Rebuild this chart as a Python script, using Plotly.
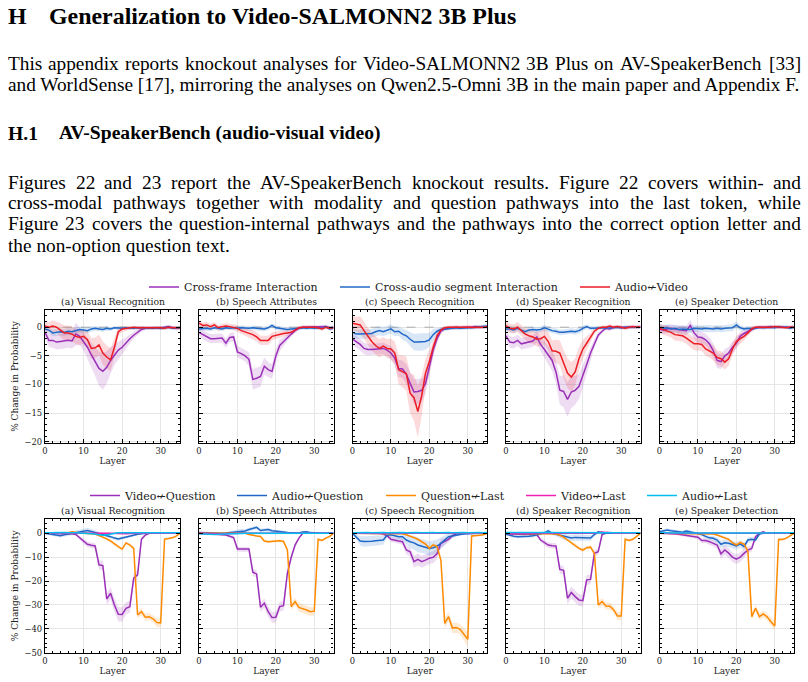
import plotly.graph_objects as go

W, H = 808, 682


def fx(p):
    return p / W


def fy(p):
    return 1 - p / H


SERIF = "DejaVu Serif"
TIMES = "Liberation Serif"

LAYERS = list(range(36))
X_TICKS = [0, 10, 20, 30]
R1_Y_TICKS = [-20, -15, -10, -5, 0]
R2_Y_TICKS = [-50, -40, -30, -20, -10, 0]

ROW1_TITLES = ["(a) Visual Recognition", "(b) Speech Attributes", "(c) Speech Recognition",
               "(d) Speaker Recognition", "(e) Speaker Detection"]
ROW2_TITLES = ROW1_TITLES
ROW1_NAMES = ["Cross-frame Interaction", "Cross-audio segment Interaction", "Audio\u219aVideo"]
ROW2_NAMES = ["Video\u219aQuestion", "Audio\u219aQuestion", "Question\u219aLast", "Video\u219aLast", "Audio\u219aLast"]

# ---------------- Row 1 : within/cross-modal pathways ----------------
R1A_CF = [-0.9, -2.3, -2.3, -2.6, -2.5, -2.4, -2.3, -2.4, -1.2, -1.6,
          -2.5, -3.5, -4.8, -6.0, -7.2, -7.7, -7.0, -5.8, -4.8, -4.0,
          -3.5, -2.7, -2.0, -1.4, -0.9, -0.4, -0.2, -0.2, -0.1, -0.1,
          -0.2, 0.0, 0.1, -0.1, -0.2, -0.1]
R1A_CF_CI = [0.8, 1.2, 1.3, 1.3, 1.3, 1.3, 1.3, 1.3, 2.0, 1.5,
             1.5, 1.8, 2.2, 2.5, 3.0, 3.2, 2.8, 2.3, 1.8, 1.5,
             1.3, 1.0, 0.8, 0.6, 0.5, 0.4, 0.3, 0.3, 0.3, 0.3,
             0.3, 0.3, 0.3, 0.3, 0.3, 0.3]
R1A_CA = [-0.3, -0.5, -1.0, -0.9, -0.8, -0.9, -0.7, -0.8, -0.6, -0.4,
          -0.5, -0.6, -0.3, -0.2, -0.3, -0.4, -0.2, -0.3, -0.1, -0.2,
          -0.2, -0.1, -0.2, -0.2, -0.1, -0.2, -0.2, -0.1, -0.2, -0.1,
          -0.2, -0.1, 0.0, -0.2, -0.2, -0.1]
R1A_CA_CI = [0.4, 0.5, 0.6, 0.6, 0.6, 0.6, 0.6, 0.6, 0.5, 0.5,
             0.5, 0.5, 0.5, 0.4, 0.4, 0.4, 0.4, 0.3, 0.3, 0.3,
             0.3, 0.3, 0.3, 0.3, 0.3, 0.3, 0.3, 0.3, 0.3, 0.3,
             0.3, 0.3, 0.3, 0.3, 0.3, 0.3]
R1A_AV = [0.2, 0.0, 0.2, 0.0, -0.5, -1.0, -1.0, -1.2, -1.6, -1.8,
          -1.6, -2.2, -3.7, -3.6, -3.1, -4.5, -5.2, -5.7, -3.5, -0.8,
          -0.3, -0.2, -0.1, 0.0, -0.1, -0.1, 0.0, 0.0, -0.1, 0.0,
          -0.1, -0.2, 0.0, -0.1, -0.1, -0.1]
R1A_AV_CI = [0.8, 0.8, 1.0, 1.0, 1.2, 1.3, 1.3, 1.3, 1.3, 1.3,
             1.3, 1.5, 1.8, 1.8, 1.8, 2.0, 2.0, 2.0, 1.5, 0.8,
             0.5, 0.4, 0.3, 0.3, 0.3, 0.3, 0.3, 0.3, 0.3, 0.3,
             0.3, 0.3, 0.3, 0.3, 0.3, 0.3]

R1B_CF = [-0.9, -1.3, -1.7, -2.0, -2.0, -1.9, -1.9, -2.8, -1.8, -1.7,
          -4.3, -4.6, -5.0, -5.6, -9.1, -8.9, -8.6, -6.8, -7.4, -7.7,
          -5.0, -3.2, -2.5, -1.8, -1.2, -0.6, -0.2, 0.0, 0.0, 0.0,
          0.0, 0.1, 0.0, 0.1, -0.1, 0.0]
R1B_CF_CI = [0.6, 0.8, 0.8, 0.8, 0.8, 0.8, 0.8, 0.8, 0.8, 0.8,
             1.0, 1.0, 1.0, 1.2, 1.8, 1.8, 1.8, 1.5, 1.3, 1.3,
             1.2, 1.0, 0.8, 0.6, 0.5, 0.4, 0.3, 0.3, 0.3, 0.3,
             0.3, 0.3, 0.3, 0.3, 0.3, 0.3]
R1B_CA = [-0.3, -0.2, -0.2, -0.3, -0.1, -0.2, -0.3, -0.1, -0.2, -0.1,
          -0.2, -0.1, -0.2, -0.2, -0.1, -0.2, -0.2, -0.3, -0.1, 0.3,
          -0.1, -0.2, -0.3, -0.4, -0.3, -0.3, -0.2, -0.1, -0.2, -0.1,
          -0.2, -0.1, -0.2, 0.1, -0.3, -0.2]
R1B_CA_CI = [0.4, 0.4, 0.4, 0.4, 0.4, 0.4, 0.4, 0.4, 0.4, 0.4,
             0.4, 0.4, 0.4, 0.4, 0.4, 0.4, 0.4, 0.4, 0.4, 0.4,
             0.4, 0.4, 0.4, 0.4, 0.4, 0.3, 0.3, 0.3, 0.3, 0.3,
             0.3, 0.3, 0.3, 0.3, 0.3, 0.3]
R1B_AV = [0.7, 0.3, 0.4, 0.1, 0.4, -0.1, 0.1, 0.2, 0.1, 0.0,
          -0.2, -0.6, -0.8, -1.1, -1.3, -1.7, -2.3, -2.3, -2.3, -1.6,
          -1.4, -1.2, -1.1, -1.0, -0.9, -0.5, -0.1, 0.0, 0.0, 0.1,
          0.0, -0.1, -0.3, 0.0, -0.2, -0.1]
R1B_AV_CI = [0.5, 0.5, 0.5, 0.5, 0.5, 0.5, 0.5, 0.5, 0.5, 0.5,
             0.6, 0.6, 0.7, 0.7, 0.8, 0.8, 0.8, 0.8, 0.8, 0.7,
             0.6, 0.6, 0.5, 0.5, 0.5, 0.4, 0.3, 0.3, 0.3, 0.3,
             0.3, 0.3, 0.3, 0.3, 0.3, 0.3]

R1C_CF = [-2.1, -2.6, -3.0, -3.7, -3.9, -3.9, -3.8, -3.7, -3.7, -4.0,
          -4.5, -5.4, -7.2, -7.3, -8.2, -9.8, -11.3, -11.2, -11.0, -9.8,
          -7.0, -4.0, -2.0, -0.7, -0.3, -0.2, -0.1, 0.0, -0.1, 0.0,
          0.0, 0.0, 0.1, 0.0, 0.0, 0.0]
R1C_CF_CI = [1.0, 1.0, 1.0, 1.0, 1.0, 1.0, 1.0, 1.0, 1.0, 1.0,
             1.2, 1.3, 1.5, 1.5, 1.8, 2.0, 2.2, 2.2, 2.0, 1.8,
             1.5, 1.2, 0.8, 0.5, 0.3, 0.3, 0.3, 0.3, 0.3, 0.3,
             0.3, 0.3, 0.3, 0.3, 0.3, 0.3]
R1C_CA = [-0.9, -1.2, -1.2, -1.2, -1.2, -1.1, -0.8, -0.6, -0.8, -0.5,
          -0.3, -0.8, -0.7, -1.2, -1.5, -2.1, -2.6, -2.6, -2.6, -2.5,
          -2.2, -1.3, -0.7, -0.4, -0.3, -0.2, -0.1, -0.1, -0.2, -0.1,
          -0.1, -0.1, 0.0, 0.0, 0.1, 0.2]
R1C_CA_CI = [0.8, 0.8, 0.8, 0.8, 0.8, 0.8, 0.8, 0.8, 0.8, 0.8,
             0.8, 0.8, 0.8, 1.0, 1.0, 1.2, 1.4, 1.5, 1.5, 1.4,
             1.2, 1.0, 0.6, 0.4, 0.3, 0.3, 0.3, 0.3, 0.3, 0.3,
             0.3, 0.3, 0.3, 0.3, 0.3, 0.3]
R1C_AV = [0.7, 0.5, 0.4, -0.6, -1.6, -2.5, -3.2, -3.7, -3.3, -3.7,
          -3.8, -4.5, -7.4, -7.7, -8.1, -11.5, -12.3, -14.7, -12.0, -8.0,
          -6.0, -3.5, -1.5, -0.5, -0.1, 0.0, 0.0, 0.0, 0.0, 0.0,
          -0.1, 0.0, 0.0, 0.0, 0.0, 0.1]
R1C_AV_CI = [1.2, 1.3, 1.5, 1.5, 1.5, 1.5, 1.6, 1.6, 1.6, 1.6,
             1.8, 2.0, 2.5, 2.8, 3.0, 3.5, 4.0, 4.5, 3.5, 2.5,
             2.0, 1.2, 0.8, 0.5, 0.3, 0.3, 0.3, 0.3, 0.3, 0.3,
             0.3, 0.3, 0.3, 0.3, 0.3, 0.3]

R1D_CF = [-1.5, -2.6, -2.7, -2.3, -2.9, -2.7, -2.6, -2.4, -1.7, -3.0,
          -3.9, -4.9, -5.8, -7.8, -11.0, -11.2, -12.6, -11.3, -11.0, -10.3,
          -8.5, -6.5, -4.5, -2.8, -1.4, -0.7, -0.2, -0.3, 0.0, 0.0,
          -0.1, 0.0, 0.0, 0.0, 0.1, 0.0]
R1D_CF_CI = [0.8, 1.0, 1.0, 1.0, 1.0, 1.0, 1.0, 1.0, 1.0, 1.2,
             1.4, 1.6, 1.8, 2.0, 2.5, 2.8, 3.0, 2.8, 2.5, 2.2,
             2.0, 1.6, 1.2, 0.8, 0.5, 0.3, 0.3, 0.3, 0.3, 0.3,
             0.3, 0.3, 0.3, 0.3, 0.3, 0.3]
R1D_CA = [-0.3, -0.3, -0.5, -0.2, -0.5, -0.8, -0.5, -0.4, -0.5, -0.4,
          -0.1, -0.4, -0.6, -0.7, -0.9, -0.9, -0.8, -0.7, -0.8, -0.6,
          -0.2, 0.1, -0.2, -0.2, -0.1, -0.1, -0.1, -0.2, -0.1, 0.0,
          -0.1, 0.0, 0.0, -0.1, 0.0, 0.0]
R1D_CA_CI = [0.5, 0.5, 0.5, 0.5, 0.5, 0.5, 0.5, 0.5, 0.5, 0.5,
             0.5, 0.5, 0.5, 0.5, 0.5, 0.5, 0.5, 0.5, 0.5, 0.5,
             0.4, 0.4, 0.4, 0.3, 0.3, 0.3, 0.3, 0.3, 0.3, 0.3,
             0.3, 0.3, 0.3, 0.3, 0.3, 0.3]
R1D_AV = [0.3, -0.2, -0.3, 0.0, -0.6, -1.2, -1.5, -1.7, -2.1, -2.0,
          -1.6, -2.5, -4.1, -4.2, -4.5, -6.4, -8.0, -8.7, -7.8, -5.5,
          -3.8, -2.8, -1.8, -0.7, -0.2, 0.0, 0.0, 0.2, 0.0, 0.1,
          0.0, -0.2, 0.0, 0.1, 0.0, 0.1]
R1D_AV_CI = [0.8, 0.8, 0.8, 0.9, 1.0, 1.0, 1.2, 1.2, 1.3, 1.3,
             1.4, 1.6, 1.8, 2.0, 2.2, 2.4, 2.6, 2.6, 2.4, 2.0,
             1.6, 1.2, 0.8, 0.5, 0.3, 0.3, 0.3, 0.3, 0.3, 0.3,
             0.3, 0.3, 0.3, 0.3, 0.3, 0.3]

R1E_CF = [-0.3, -0.5, -0.3, -0.2, -0.3, -0.4, -0.5, -0.6, 0.3, -1.0,
          -1.7, -1.8, -2.2, -2.9, -4.1, -5.8, -6.0, -5.0, -4.5, -3.5,
          -2.8, -1.6, -1.1, -0.7, -0.4, -0.1, 0.0, 0.0, 0.0, 0.1,
          0.0, 0.0, 0.0, 0.1, 0.0, 0.0]
R1E_CF_CI = [0.7, 0.7, 0.7, 0.7, 0.7, 0.7, 0.8, 0.8, 1.0, 1.0,
             1.0, 1.0, 1.0, 1.1, 1.2, 1.3, 1.3, 1.2, 1.1, 1.0,
             0.9, 0.8, 0.6, 0.5, 0.4, 0.3, 0.3, 0.3, 0.3, 0.3,
             0.3, 0.3, 0.3, 0.3, 0.3, 0.3]
R1E_CA = [0.0, -0.2, -0.1, -0.3, -0.2, -0.4, -0.3, -0.3, -0.4, -0.2,
          -0.3, -0.3, -0.2, -0.3, -0.3, -0.2, -0.3, -0.2, -0.1, -0.1,
          0.4, -0.1, -0.3, -0.2, -0.3, -0.1, 0.0, -0.1, 0.0, 0.0,
          -0.1, 0.1, 0.0, 0.0, -0.2, 0.0]
R1E_CA_CI = [0.6, 0.6, 0.6, 0.6, 0.6, 0.6, 0.6, 0.6, 0.6, 0.6,
             0.6, 0.6, 0.6, 0.6, 0.6, 0.6, 0.6, 0.6, 0.6, 0.6,
             0.6, 0.5, 0.4, 0.4, 0.3, 0.3, 0.3, 0.3, 0.3, 0.3,
             0.3, 0.3, 0.3, 0.3, 0.3, 0.3]
R1E_AV = [-0.2, -0.4, -0.6, -0.9, -1.3, -1.4, -1.5, -1.9, -2.4, -2.9,
          -2.9, -3.0, -3.8, -4.1, -4.5, -5.3, -5.5, -6.1, -5.5, -3.8,
          -2.5, -2.0, -1.6, -1.0, -0.3, 0.0, 0.0, -0.1, 0.0, 0.0,
          0.1, 0.0, 0.0, -0.1, 0.0, 0.0]
R1E_AV_CI = [0.8, 0.8, 0.9, 0.9, 1.0, 1.0, 1.0, 1.0, 1.1, 1.1,
             1.1, 1.1, 1.2, 1.2, 1.3, 1.3, 1.3, 1.3, 1.2, 1.1,
             1.0, 0.9, 0.7, 0.5, 0.4, 0.3, 0.3, 0.3, 0.3, 0.3,
             0.3, 0.3, 0.3, 0.3, 0.3, 0.3]

# ---------------- Row 2 : question / last-token pathways ----------------
R2A_VQ = [0.0, 0.0, 0.0, 0.0, 0.0, 0.0, 0.0, -0.2, -0.5, -2.0,
          -3.5, -4.6, -5.0, -5.3, -13.2, -13.5, -27.5, -25.1, -30.0, -33.9,
          -34.0, -31.4, -30.7, -18.8, -17.4, -2.5, -0.7, 0.0, 0.0, 0.0,
          0.0, 0.0, 0.0, 0.0, 0.0, 0.0]
R2A_VQ_CI = [0.3, 0.3, 0.3, 0.3, 0.3, 0.3, 0.3, 0.4, 0.5, 0.8,
             1.0, 1.2, 1.2, 1.2, 2.0, 2.0, 2.5, 2.5, 2.8, 3.0,
             3.0, 2.5, 2.5, 2.0, 2.0, 1.0, 0.5, 0.3, 0.3, 0.3,
             0.3, 0.3, 0.3, 0.3, 0.3, 0.3]
R2A_AQ = [0.0, -0.2, -0.5, -0.8, -1.0, -0.6, -0.3, 0.0, 0.3, 0.7,
          1.1, 1.2, 0.8, 0.4, -0.2, -0.5, -1.0, -1.4, -2.0, -2.4,
          -2.0, -1.7, -1.3, -0.8, -0.4, -0.1, 0.0, 0.0, 0.0, 0.0,
          0.1, 0.0, 0.0, 0.0, 0.0, 0.0]
R2A_AQ_CI = [0.4, 0.5, 0.5, 0.6, 0.6, 0.6, 0.6, 0.7, 0.9, 1.0,
             1.1, 1.1, 1.0, 0.8, 0.6, 0.6, 0.6, 0.7, 0.7, 0.7,
             0.7, 0.6, 0.6, 0.5, 0.4, 0.3, 0.3, 0.3, 0.3, 0.3,
             0.3, 0.3, 0.3, 0.3, 0.3, 0.3]
R2A_QL = [0.0, 0.0, 0.0, 0.0, 0.0, 0.1, 0.3, 0.7, 0.3, 0.1,
          0.0, 0.0, 0.0, -0.3, -0.9, -1.5, -2.3, -3.2, -4.6, -5.6,
          -6.6, -4.0, -4.9, -6.3, -34.2, -32.8, -35.1, -34.9, -35.8, -37.4,
          -37.5, -2.4, -2.2, -1.9, -1.2, 0.0]
R2A_QL_CI = [0.2, 0.2, 0.2, 0.2, 0.2, 0.2, 0.3, 0.3, 0.3, 0.2,
             0.2, 0.2, 0.2, 0.3, 0.4, 0.5, 0.5, 0.6, 0.6, 0.7,
             0.7, 0.7, 0.7, 0.8, 1.5, 1.5, 1.5, 1.5, 1.5, 1.8,
             1.8, 0.5, 0.5, 0.5, 0.4, 0.2]
R2A_VL = [0.0, 0.1, 0.0, 0.0, -0.1, 0.0, 0.0, 0.1, 0.0, 0.0,
          -0.1, 0.0, 0.0, 0.0, -0.1, 0.0, 0.0, 0.0, -0.1, 0.0,
          0.0, -0.2, -0.1, 0.0, 0.0, 0.0, 0.0, 0.0, 0.0, 0.0,
          0.0, 0.0, 0.0, 0.0, 0.0, 0.0]
R2A_AL = [0.2, 0.1, 0.2, 0.3, 0.2, 0.2, 0.1, 0.2, 0.2, 0.1,
          0.2, 0.2, 0.1, -0.3, -0.6, -0.8, -0.6, -0.3, 0.1, 0.2,
          0.2, 0.3, 0.2, 0.2, 0.2, 0.1, 0.2, 0.2, 0.2, 0.2,
          0.1, 0.2, 0.2, 0.2, 0.2, 0.2]

R2B_VQ = [0.0, -0.2, -0.3, -0.4, -0.4, -0.5, -0.6, -0.7, -1.2, -1.8,
          -6.6, -6.7, -6.8, -6.6, -16.3, -17.0, -31.0, -29.3, -32.8, -35.3,
          -35.2, -30.7, -30.3, -16.7, -10.0, -4.9, -2.0, 0.0, 0.0, 0.0,
          0.0, 0.0, 0.0, 0.0, 0.0, 0.0]
R2B_VQ_CI = [0.3, 0.3, 0.3, 0.3, 0.3, 0.3, 0.3, 0.4, 0.5, 0.8,
             1.0, 1.0, 1.0, 1.0, 1.5, 1.5, 2.0, 2.0, 2.2, 2.2,
             2.2, 2.0, 2.0, 1.5, 1.2, 1.0, 0.5, 0.3, 0.3, 0.3,
             0.3, 0.3, 0.3, 0.3, 0.3, 0.3]
R2B_AQ = [0.3, 0.2, 0.1, 0.0, 0.0, 0.1, 0.0, 0.1, 0.3, 0.7,
          0.9, 1.1, 1.0, 1.6, 2.0, 2.5, 1.2, 1.5, 1.6, 1.1,
          1.0, 0.8, 0.6, 0.3, 0.2, 0.0, 0.1, 0.6, 0.7, 0.3,
          0.1, 0.0, 0.0, 0.0, 0.0, 0.0]
R2B_AQ_CI = [0.4, 0.4, 0.4, 0.4, 0.4, 0.4, 0.4, 0.5, 0.6, 0.7,
             0.8, 0.8, 0.8, 0.8, 0.8, 0.8, 0.7, 0.7, 0.7, 0.6,
             0.6, 0.5, 0.5, 0.4, 0.4, 0.4, 0.4, 0.4, 0.4, 0.3,
             0.3, 0.3, 0.3, 0.3, 0.3, 0.3]
R2B_QL = [0.0, 0.0, 0.0, 0.0, 0.0, 0.0, 0.0, 0.0, 0.0, 0.0,
          0.0, 0.0, 0.0, -0.5, -0.9, -1.1, -1.3, -3.2, -3.5, -3.4,
          -3.2, -3.1, -3.4, -7.0, -30.7, -28.6, -31.0, -31.4, -32.1, -32.8,
          -32.6, -2.5, -3.0, -2.0, -1.3, 0.0]
R2B_QL_CI = [0.2, 0.2, 0.2, 0.2, 0.2, 0.2, 0.2, 0.2, 0.2, 0.2,
             0.2, 0.2, 0.2, 0.3, 0.3, 0.4, 0.5, 0.5, 0.5, 0.5,
             0.5, 0.5, 0.5, 0.8, 1.5, 1.5, 1.8, 1.8, 1.8, 1.8,
             1.8, 0.5, 0.5, 0.4, 0.3, 0.2]
R2B_VL = [0.0, -0.1, -0.2, -0.2, -0.3, -0.2, -0.2, -0.1, -0.1, 0.0,
          0.0, 0.0, 0.0, 0.0, 0.0, 0.0, 0.0, 0.0, 0.0, 0.0,
          0.0, 0.0, 0.0, 0.0, 0.0, 0.0, 0.0, 0.0, 0.0, 0.0,
          0.0, 0.0, 0.0, 0.0, 0.0, 0.0]
R2B_AL = [-0.2, -0.3, -0.5, -0.6, -0.5, -0.4, -0.3, -0.2, -0.1, 0.0,
          0.0, 0.1, 0.0, 0.0, 0.1, 0.0, 0.0, 0.0, 0.0, 0.0,
          0.0, 0.0, 0.0, 0.1, 0.0, 0.0, 0.0, 0.0, 0.0, 0.0,
          0.0, 0.0, 0.0, 0.0, 0.0, 0.0]

R2C_VQ = [0.0, 0.0, 0.1, 0.0, 0.0, 0.0, 0.0, -0.1, -0.3, -1.0,
          -2.5, -3.0, -3.2, -3.5, -7.0, -7.7, -11.9, -10.9, -11.9, -11.2,
          -10.4, -10.0, -8.6, -4.2, -3.5, -2.5, -1.0, -0.2, 0.0, 0.0,
          0.0, 0.0, 0.0, 0.0, 0.0, 0.0]
R2C_VQ_CI = [0.3, 0.3, 0.3, 0.3, 0.3, 0.3, 0.3, 0.3, 0.4, 0.6,
             1.0, 1.2, 1.2, 1.3, 1.8, 2.0, 2.5, 2.5, 2.5, 2.5,
             2.5, 2.5, 2.2, 1.8, 1.5, 1.2, 0.8, 0.4, 0.3, 0.3,
             0.3, 0.3, 0.3, 0.3, 0.3, 0.3]
R2C_AQ = [0.0, -1.4, -3.2, -3.4, -3.5, -3.3, -3.1, -3.0, -2.8, -0.8,
          -0.6, -1.0, -1.4, -1.4, -2.8, -3.5, -4.0, -4.9, -5.3, -5.6,
          -6.3, -6.0, -5.4, -4.2, -2.8, -1.4, -1.1, -0.7, -0.5, -0.3,
          -0.1, 0.0, 0.0, 0.0, 0.0, 0.0]
R2C_AQ_CI = [0.3, 1.0, 2.0, 2.2, 2.2, 2.2, 2.2, 2.0, 2.0, 1.0,
             1.0, 1.2, 1.2, 1.5, 2.0, 2.5, 3.0, 3.0, 3.0, 3.0,
             3.0, 3.0, 2.8, 2.5, 2.0, 1.5, 1.0, 0.6, 0.4, 0.3,
             0.3, 0.3, 0.3, 0.3, 0.3, 0.3]
R2C_QL = [0.0, 0.0, 0.0, 0.0, 0.0, 0.0, 0.0, 0.0, 0.0, 0.0,
          0.0, 0.0, 0.0, -0.2, -0.6, -1.1, -1.8, -2.5, -3.5, -4.5,
          -6.3, -4.8, -5.5, -11.2, -37.7, -34.9, -39.7, -39.5, -40.2, -42.1,
          -44.4, -1.1, -1.1, -0.8, -0.6, 0.0]
R2C_QL_CI = [0.2, 0.2, 0.2, 0.2, 0.2, 0.2, 0.2, 0.2, 0.2, 0.2,
             0.2, 0.2, 0.2, 0.3, 0.4, 0.5, 0.5, 0.6, 0.6, 0.7,
             0.8, 0.8, 0.8, 1.0, 2.0, 2.0, 2.2, 2.2, 2.2, 2.5,
             3.0, 0.5, 0.4, 0.4, 0.3, 0.2]
R2C_VL = [0.0, 0.0, 0.1, 0.0, 0.0, 0.0, -0.1, 0.0, 0.0, 0.0,
          0.0, 0.0, 0.0, 0.0, 0.0, 0.1, 0.0, 0.0, 0.0, 0.0,
          0.0, 0.0, 0.0, 0.0, 0.0, 0.0, 0.0, 0.0, 0.0, 0.0,
          0.0, 0.0, 0.0, 0.0, 0.0, 0.0]
R2C_AL = [0.2, 0.3, 0.3, 0.2, 0.3, 0.2, 0.3, 0.2, 0.3, 0.2,
          0.3, 0.2, 0.3, 0.3, 0.2, 0.3, 0.2, 0.3, 0.2, 0.3,
          0.2, 0.3, 0.2, 0.3, 0.2, 0.3, 0.2, 0.3, 0.2, 0.3,
          0.2, 0.3, 0.2, 0.3, 0.2, 0.3]

R2D_VQ = [-0.3, -0.3, -0.4, -0.4, -0.3, -0.4, -0.3, -0.4, -0.5, -2.8,
          -4.0, -4.9, -5.2, -5.3, -15.1, -15.5, -27.2, -24.8, -26.5, -27.9,
          -28.2, -19.5, -19.3, -8.4, -7.7, -0.5, 0.0, 0.0, 0.0, 0.0,
          0.0, 0.0, 0.0, 0.0, 0.0, 0.0]
R2D_VQ_CI = [0.4, 0.4, 0.4, 0.4, 0.4, 0.4, 0.4, 0.4, 0.5, 0.8,
             1.0, 1.2, 1.2, 1.2, 1.8, 1.8, 2.5, 2.5, 2.5, 2.5,
             2.5, 2.0, 2.0, 1.5, 1.2, 0.6, 0.3, 0.3, 0.3, 0.3,
             0.3, 0.3, 0.3, 0.3, 0.3, 0.3]
R2D_AQ = [-0.4, -0.9, -1.2, -1.4, -1.4, -1.3, -1.2, -1.0, -0.7, -0.4,
          0.2, 1.0, 0.0, -0.4, -0.8, -1.5, -1.9, -2.0, -1.7, -1.8,
          -1.8, -1.8, -2.0, -0.5, 0.6, 0.2, 0.0, 0.0, 0.0, 0.0,
          0.0, 0.0, 0.0, 0.0, 0.0, 0.0]
R2D_AQ_CI = [0.5, 0.6, 0.7, 0.7, 0.7, 0.7, 0.7, 0.7, 0.6, 0.6,
             0.7, 0.8, 0.7, 0.8, 1.0, 1.2, 1.3, 1.3, 1.3, 1.3,
             1.3, 1.3, 1.2, 0.8, 0.6, 0.4, 0.3, 0.3, 0.3, 0.3,
             0.3, 0.3, 0.3, 0.3, 0.3, 0.3]
R2D_QL = [0.0, 0.0, 0.0, 0.0, 0.0, 0.0, 0.0, 0.0, 0.0, 0.0,
          0.0, 0.0, 0.0, -0.3, -0.8, -1.6, -2.8, -4.1, -5.0, -6.3,
          -7.0, -6.0, -5.8, -8.4, -30.0, -28.6, -30.4, -30.5, -32.0, -34.6,
          -34.6, -2.5, -3.0, -2.5, -1.3, 0.0]
R2D_QL_CI = [0.2, 0.2, 0.2, 0.2, 0.2, 0.2, 0.2, 0.2, 0.2, 0.2,
             0.2, 0.2, 0.2, 0.3, 0.4, 0.5, 0.6, 0.7, 0.8, 0.8,
             0.8, 0.8, 0.8, 1.0, 1.5, 1.5, 1.5, 1.5, 1.5, 1.8,
             1.8, 0.6, 0.6, 0.5, 0.4, 0.2]
R2D_VL = [0.0, -0.2, -0.1, 0.0, 0.0, -0.1, -0.2, -0.3, -0.1, 0.0,
          0.0, 0.0, 0.0, 0.0, 0.0, 0.0, 0.0, 0.0, 0.0, 0.0,
          0.0, 0.0, 0.0, 0.0, 0.3, 0.6, 0.4, 0.2, 0.0, 0.0,
          0.0, 0.0, 0.0, 0.0, 0.0, 0.0]
R2D_AL = [0.3, 0.3, 0.3, 0.4, 0.3, 0.2, 0.3, 0.2, 0.2, 0.1,
          0.2, 0.1, 0.2, 0.2, 0.1, 0.2, 0.3, 0.2, 0.2, 0.2,
          0.2, 0.2, 0.1, 0.2, 0.2, 0.3, 0.2, 0.2, 0.2, 0.2,
          0.2, 0.2, 0.2, 0.2, 0.2, 0.2]

R2E_VQ = [0.0, 0.0, 0.1, 0.0, -0.2, -0.4, -0.6, -0.8, -1.0, -1.3,
          -1.6, -3.0, -3.0, -3.5, -4.2, -4.9, -8.6, -7.0, -8.3, -10.0,
          -10.8, -10.0, -8.4, -7.0, -6.3, -1.4, 0.0, 0.6, 0.0, 0.0,
          0.0, 0.0, 0.0, 0.0, 0.0, 0.0]
R2E_VQ_CI = [0.4, 0.4, 0.4, 0.4, 0.5, 0.5, 0.6, 0.6, 0.7, 0.8,
             0.9, 1.0, 1.0, 1.1, 1.3, 1.5, 2.0, 2.0, 2.0, 2.0,
             2.0, 2.0, 1.8, 1.5, 1.3, 0.8, 0.5, 0.4, 0.3, 0.3,
             0.3, 0.3, 0.3, 0.3, 0.3, 0.3]
R2E_AQ = [0.7, 1.2, 1.4, 1.1, 0.8, 0.6, 0.5, 1.0, 0.6, 0.3,
          0.0, -0.5, -1.3, -1.9, -2.1, -2.8, -4.6, -4.0, -4.2, -4.6,
          -5.3, -4.4, -5.6, -2.8, -2.5, -2.8, -0.3, 0.0, 0.0, 0.0,
          0.0, 0.0, 0.0, 0.0, 0.0, 0.0]
R2E_AQ_CI = [0.5, 0.6, 0.6, 0.6, 0.6, 0.6, 0.6, 0.6, 0.6, 0.6,
             0.6, 0.7, 0.8, 0.9, 1.0, 1.2, 1.5, 1.5, 1.5, 1.5,
             1.5, 1.5, 1.5, 1.2, 1.0, 1.0, 0.5, 0.3, 0.3, 0.3,
             0.3, 0.3, 0.3, 0.3, 0.3, 0.3]
R2E_QL = [0.0, 0.0, 0.0, 0.0, 0.0, 0.0, 0.0, 0.0, 0.0, 0.0,
          0.0, 0.0, 0.0, 0.0, -0.3, -0.7, -1.3, -2.0, -2.5, -4.0,
          -4.9, -3.9, -4.5, -7.5, -34.9, -31.4, -34.9, -33.8, -35.0, -37.0,
          -38.8, -2.5, -2.6, -2.0, -1.0, 0.0]
R2E_QL_CI = [0.2, 0.2, 0.2, 0.2, 0.2, 0.2, 0.2, 0.2, 0.2, 0.2,
             0.2, 0.2, 0.2, 0.2, 0.3, 0.4, 0.5, 0.5, 0.6, 0.6,
             0.7, 0.7, 0.7, 1.0, 1.5, 1.5, 1.5, 1.5, 1.5, 1.8,
             2.0, 0.5, 0.5, 0.4, 0.3, 0.2]
R2E_VL = [0.0, 0.1, 0.0, -0.1, -0.2, -0.2, -0.1, 0.0, 0.0, 0.0,
          0.0, 0.0, 0.0, 0.0, 0.0, 0.0, 0.0, 0.0, 0.0, 0.0,
          0.0, 0.0, 0.0, 0.0, 0.0, 0.0, 0.1, 0.2, 0.1, 0.0,
          0.0, 0.0, 0.0, 0.0, 0.0, 0.0]
R2E_AL = [0.2, 0.3, 0.2, 0.1, 0.1, 0.2, 0.2, 0.1, 0.2, 0.1,
          0.1, 0.2, 0.1, 0.2, 0.1, 0.2, 0.1, 0.2, 0.1, 0.2,
          0.2, 0.1, 0.2, 0.2, 0.1, 0.2, 0.2, 0.2, 0.1, 0.2,
          0.2, 0.2, 0.2, 0.2, 0.2, 0.2]

R2_VL_CI = [0.2, 0.2, 0.2, 0.2, 0.2, 0.2, 0.2, 0.2, 0.2, 0.2,
            0.2, 0.2, 0.2, 0.2, 0.2, 0.2, 0.2, 0.2, 0.2, 0.2,
            0.2, 0.2, 0.2, 0.2, 0.2, 0.2, 0.2, 0.2, 0.2, 0.2,
            0.2, 0.2, 0.2, 0.2, 0.2, 0.2]
R2_AL_CI = [0.3, 0.3, 0.3, 0.3, 0.3, 0.3, 0.3, 0.3, 0.3, 0.3,
            0.3, 0.3, 0.3, 0.3, 0.3, 0.3, 0.3, 0.3, 0.3, 0.3,
            0.3, 0.3, 0.3, 0.3, 0.3, 0.3, 0.3, 0.3, 0.3, 0.3,
            0.3, 0.3, 0.3, 0.3, 0.3, 0.3]

# ---------------- styling ----------------
PURPLE = (155, 48, 184)
BLUE = (31, 104, 200)
RED = (236, 28, 36)
ORANGE = (255, 138, 0)
MAGENTA = (240, 32, 176)
CYAN = (0, 190, 240)

ROW1_COLORS = [PURPLE, BLUE, RED]
ROW2_COLORS = [PURPLE, BLUE, ORANGE, MAGENTA, CYAN]

ROW1_PANELS = [
    [(R1A_CF, R1A_CF_CI), (R1A_CA, R1A_CA_CI), (R1A_AV, R1A_AV_CI)],
    [(R1B_CF, R1B_CF_CI), (R1B_CA, R1B_CA_CI), (R1B_AV, R1B_AV_CI)],
    [(R1C_CF, R1C_CF_CI), (R1C_CA, R1C_CA_CI), (R1C_AV, R1C_AV_CI)],
    [(R1D_CF, R1D_CF_CI), (R1D_CA, R1D_CA_CI), (R1D_AV, R1D_AV_CI)],
    [(R1E_CF, R1E_CF_CI), (R1E_CA, R1E_CA_CI), (R1E_AV, R1E_AV_CI)],
]
ROW2_PANELS = [
    [(R2A_VQ, R2A_VQ_CI), (R2A_AQ, R2A_AQ_CI), (R2A_QL, R2A_QL_CI), (R2A_VL, R2_VL_CI), (R2A_AL, R2_AL_CI)],
    [(R2B_VQ, R2B_VQ_CI), (R2B_AQ, R2B_AQ_CI), (R2B_QL, R2B_QL_CI), (R2B_VL, R2_VL_CI), (R2B_AL, R2_AL_CI)],
    [(R2C_VQ, R2C_VQ_CI), (R2C_AQ, R2C_AQ_CI), (R2C_QL, R2C_QL_CI), (R2C_VL, R2_VL_CI), (R2C_AL, R2_AL_CI)],
    [(R2D_VQ, R2D_VQ_CI), (R2D_AQ, R2D_AQ_CI), (R2D_QL, R2D_QL_CI), (R2D_VL, R2_VL_CI), (R2D_AL, R2_AL_CI)],
    [(R2E_VQ, R2E_VQ_CI), (R2E_AQ, R2E_AQ_CI), (R2E_QL, R2E_QL_CI), (R2E_VL, R2_VL_CI), (R2E_AL, R2_AL_CI)],
]

# pixel layout of the page
PANEL_X = [(45, 180), (199, 333.5), (352.5, 487), (506, 640.5), (659.5, 794)]
ROW_Y = [(310, 443), (519, 652.7)]
ROW_RANGE = [[-20.2, 3.0], [-50.0, 6.0]]
ROW_DTICK = [R1_Y_TICKS, R2_Y_TICKS]
ROW_MINOR = [1, 2]
ROW_TITLE_Y = [301.5, 510]
LEG_Y = [287, 495.5]
ROW1_LEG_X = [144, 335, 575]
ROW2_LEG_X = [85, 232, 381, 521, 642]


def rgba(c, a):
    return "rgba(%d,%d,%d,%.2f)" % (c[0], c[1], c[2], a)


fig = go.Figure()
legend_counter = [0]
layout_extra = {}


def legend_key():
    legend_counter[0] += 1
    return "legend" if legend_counter[0] == 1 else "legend%d" % legend_counter[0]


rows = [(ROW1_PANELS, ROW1_NAMES, ROW1_COLORS, ROW1_LEG_X),
        (ROW2_PANELS, ROW2_NAMES, ROW2_COLORS, ROW2_LEG_X)]

annotations = []
shapes = []

for r, (panels, names, colors, leg_x) in enumerate(rows):
    leg_keys = []
    for k in range(len(names)):
        key = legend_key()
        leg_keys.append(key)
        layout_extra[key] = dict(
            x=fx(leg_x[k]), y=fy(LEG_Y[r]), xanchor="left", yanchor="middle",
            orientation="h", bgcolor="rgba(0,0,0,0)", borderwidth=0,
            font=dict(family=SERIF, size=11, color="#222"), itemwidth=30,
            tracegroupgap=0)
    for c, series in enumerate(panels):
        idx = r * 5 + c + 1
        xs = "x" if idx == 1 else "x%d" % idx
        ys = "y" if idx == 1 else "y%d" % idx
        # bands
        for (mean, ci), col in zip(series, colors):
            lo = [m - e for m, e in zip(mean, ci)]
            hi = [m + e for m, e in zip(mean, ci)]
            fig.add_trace(go.Scatter(
                x=LAYERS + LAYERS[::-1], y=hi + lo[::-1], fill="toself",
                fillcolor=rgba(col, 0.17), line=dict(width=0), mode="lines",
                hoverinfo="skip", showlegend=False, xaxis=xs, yaxis=ys))
        # mean lines
        for k, ((mean, ci), col) in enumerate(zip(series, colors)):
            fig.add_trace(go.Scatter(
                x=LAYERS, y=mean, mode="lines", name=names[k],
                line=dict(color=rgba(col, 1), width=1.5),
                showlegend=(c == 0), legend=leg_keys[k], xaxis=xs, yaxis=ys))

        x0, x1 = PANEL_X[c]
        yt, yb = ROW_Y[r]
        xkey = "xaxis" if idx == 1 else "xaxis%d" % idx
        ykey = "yaxis" if idx == 1 else "yaxis%d" % idx
        layout_extra[xkey] = dict(
            domain=[fx(x0), fx(x1)], anchor=ys, range=[LAYERS[0], LAYERS[-1]],
            tickvals=X_TICKS, ticks="inside", ticklen=4, tickwidth=1, tickcolor="#000",
            showline=True, linecolor="#000", linewidth=1.3, mirror="ticks",
            showgrid=True, gridcolor="#e6e6e6", gridwidth=1, zeroline=False,
            minor=dict(ticks="inside", ticklen=2, dtick=2, tickcolor="#000", tickwidth=0.8, showgrid=False),
            tickfont=dict(family=SERIF, size=8.4, color="#222"),
            title=dict(text="Layer", font=dict(family=SERIF, size=9, color="#222"), standoff=2),
            automargin=False, fixedrange=True)
        layout_extra[ykey] = dict(
            domain=[fy(yb), fy(yt)], anchor=xs, range=ROW_RANGE[r],
            tickvals=ROW_DTICK[r], ticks="inside", ticklen=4, tickwidth=1, tickcolor="#000",
            showline=True, linecolor="#000", linewidth=1.3, mirror="ticks",
            showgrid=True, gridcolor="#e6e6e6", gridwidth=1, zeroline=False,
            minor=dict(ticks="inside", ticklen=2, dtick=ROW_MINOR[r], tickcolor="#000", tickwidth=0.8, showgrid=False),
            showticklabels=(c == 0),
            tickfont=dict(family=SERIF, size=8.4, color="#222"),
            title=dict(text="% Change in Probability" if c == 0 else "",
                       font=dict(family=SERIF, size=9, color="#222"), standoff=4),
            automargin=False, fixedrange=True)
        # dashed zero reference line across the layer range
        shapes.append(dict(type="line", xref=xs, x0=LAYERS[0], x1=LAYERS[-1], yref=ys, y0=0, y1=0,
                           line=dict(color="#9a9a9a", width=0.8, dash="dash"), layer="between"))
        annotations.append(dict(
            text=(ROW1_TITLES if r == 0 else ROW2_TITLES)[c], x=fx((x0 + x1) / 2), y=fy(ROW_TITLE_Y[r]),
            xref="paper", yref="paper", xanchor="center", yanchor="middle", showarrow=False,
            font=dict(family=SERIF, size=9.3, color="#222")))

# ---------------- page text ----------------
# Times / Liberation Serif advance widths (1/1000 em), used to justify lines like the source page
TIMES_W = {
    " ": 250, "!": 333, "(": 333, ")": 333, ",": 250, "-": 333, ".": 250, "[": 333, "]": 333,
    "0": 500, "1": 500, "2": 500, "3": 500, "4": 500, "5": 500, "6": 500, "7": 500, "8": 500, "9": 500,
    "A": 722, "B": 667, "C": 667, "D": 722, "E": 611, "F": 556, "G": 722, "H": 722, "I": 333,
    "J": 389, "K": 722, "L": 611, "M": 889, "N": 722, "O": 722, "P": 556, "Q": 722, "R": 667,
    "S": 556, "T": 611, "U": 722, "V": 722, "W": 944, "X": 722, "Y": 722, "Z": 611,
    "a": 444, "b": 500, "c": 444, "d": 500, "e": 444, "f": 333, "g": 500, "h": 500, "i": 278,
    "j": 278, "k": 500, "l": 278, "m": 778, "n": 500, "o": 500, "p": 500, "q": 500, "r": 333,
    "s": 389, "t": 278, "u": 500, "v": 500, "w": 722, "x": 500, "y": 500, "z": 444,
}
TIMES_KERN = {"AV": -135, "Vi": -60, "Fi": 0, "ke": -10}


def word_width(word, size):
    w = sum(TIMES_W.get(ch, 500) for ch in word)
    w += sum(TIMES_KERN.get(word[i:i + 2], 0) for i in range(len(word) - 1))
    return w / 1000.0 * size


BODY = 19.3
LEFT, RIGHT = 7, 800
BODY_LINES = [
    ("This appendix reports knockout analyses for Video-SALMONN2 3B Plus on AV-SpeakerBench [33]", 63, True),
    ("and WorldSense [17], mirroring the analyses on Qwen2.5-Omni 3B in the main paper and Appendix F.", 84, False),
    ("Figures 22 and 23 report the AV-SpeakerBench knockout results.  Figure 22 covers within- and", 182, True),
    ("cross-modal pathways together with modality and question pathways into the last token, while", 203, True),
    ("Figure 23 covers the question-internal pathways and the pathways into the correct option letter and", 224, True),
    ("the non-option question text.", 245, False),
]


def add_text(txt, x, y, size, bold=False):
    annotations.append(dict(text=("<b>%s</b>" % txt) if bold else txt, x=fx(x), y=fy(y),
                            xref="paper", yref="paper", xanchor="left", yanchor="middle",
                            showarrow=False, borderpad=0,
                            font=dict(family=TIMES, size=size, color="#000")))


add_text("H", 7, 16, 23.9, bold=True)
add_text("Generalization to Video-SALMONN2 3B Plus", 48, 16, 23.9, bold=True)
add_text("H.1", 7, 133, 19.6, bold=True)
add_text("AV-SpeakerBench (audio-visual video)", 58, 133, 19.6, bold=True)

for line, y, justify in BODY_LINES:
    if not justify:
        add_text(line, LEFT, y, BODY)
        continue
    words = line.split()
    total = sum(word_width(w, BODY) for w in words)
    gap = (RIGHT - LEFT - total) / (len(words) - 1)
    xpos = LEFT
    for w in words:
        add_text(w, xpos, y, BODY)
        xpos += word_width(w, BODY) + gap

fig.update_layout(
    width=W, height=H, margin=dict(l=0, r=0, t=0, b=0, pad=0, autoexpand=False),
    paper_bgcolor="white", plot_bgcolor="white",
    annotations=annotations, shapes=shapes, hovermode=False,
    **layout_extra)

fig.write_html("out.html", config={"displayModeBar": False})
